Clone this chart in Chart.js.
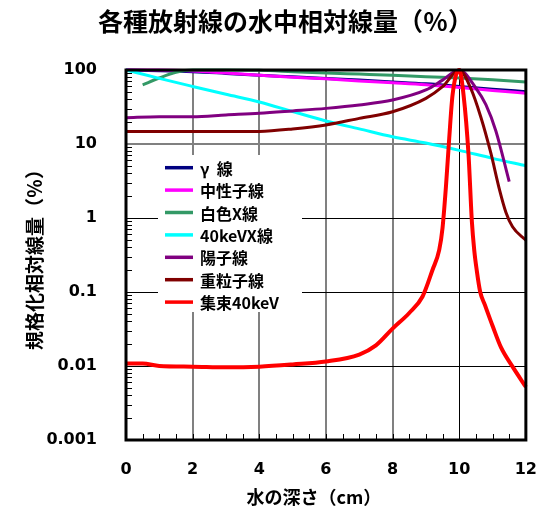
<!DOCTYPE html>
<html><head><meta charset="utf-8">
<script src="https://cdn.jsdelivr.net/npm/chart.js@4/dist/chart.umd.min.js"></script>
<style>html,body{margin:0;padding:0;background:#fff}</style>
</head><body>
<canvas id="c" width="557" height="510"></canvas>
<script>
// ---- data ----
const seriesNames = ['γ  線', '中性子線', '白色X線', '40keVX線', '陽子線', '重粒子線', '集束40keV'];
const seriesColors = ['#000080', '#FF00FF', '#339966', '#00FFFF', '#800080', '#800000', '#FF0000'];

const gammaDepth = [0, 1, 2, 3, 4, 5, 6, 7, 8, 9, 10, 11, 12];
const gammaDose  = [100, 98, 95, 90, 85, 81, 77, 73, 69, 65, 60, 55, 51];

const neutronDepth = [0, 1, 2, 3, 4, 5, 6, 7, 8, 9, 10, 11, 12];
const neutronDose  = [100, 100, 97, 91, 85, 80, 76, 71, 67, 63, 58, 53, 48.5];

const whiteXDepth = [0.5, 1, 1.5, 2, 3, 4, 5, 6, 7, 8, 9, 10, 11, 12];
const whiteXDose  = [63, 78, 93, 100, 100, 99, 95, 91, 88, 85, 81, 78, 74, 69];

const kev40XDepth = [0, 1, 2, 3, 4, 5, 6, 7, 8, 9, 10, 11, 12];
const kev40XDose  = [100, 77, 60, 47, 37, 27.5, 20.5, 16, 12.5, 10.3, 8.2, 6.4, 5.1];

const protonDepth = [0, 1, 2, 3, 4, 5, 6, 7, 8, 9, 9.5, 10, 10.5, 10.8, 11.1, 11.5];
const protonDose  = [22.7, 23.4, 23.4, 24.7, 26, 28, 30.3, 33.7, 39.3, 53.7, 73, 100, 57, 34, 15, 3.1];

const heavyDepth = [0, 1, 2, 3, 4, 5, 6, 7, 8, 9, 9.5, 10, 10.35, 10.65, 10.95, 11.2, 11.4, 11.6, 12];
const heavyDose  = [14.7, 14.7, 14.7, 14.7, 14.8, 16, 18.1, 22.2, 27.3, 41.4, 59.5, 100, 56, 23, 7.5, 2.5, 1.2, 0.76, 0.5];

const focusDepth = [0, 0.5, 1, 2, 3, 4, 5, 6, 7, 7.5, 8, 8.5, 8.9, 9.2, 9.4, 9.5, 9.6, 9.7, 9.8, 10, 10.13, 10.28, 10.38, 10.45, 10.53, 10.63, 10.77, 11, 11.25, 11.6, 12];
const focusDose  = [0.0108, 0.0108, 0.0100, 0.0098, 0.0096, 0.0098, 0.0105, 0.0115, 0.0143, 0.019, 0.032, 0.052, 0.087, 0.20, 0.37, 0.74, 2.6, 12, 46, 100, 46, 7.1, 0.89, 0.37, 0.19, 0.10, 0.067, 0.035, 0.018, 0.0098, 0.0052];

const xTickLabels = ['0', '2', '4', '6', '8', '10', '12'];
const yTickLabels = ['0.001', '0.01', '0.1', '1', '10', '100'];

const depthSets = [gammaDepth, neutronDepth, whiteXDepth, kev40XDepth, protonDepth, heavyDepth, focusDepth];
const doseSets  = [gammaDose, neutronDose, whiteXDose, kev40XDose, protonDose, heavyDose, focusDose];

// ---- chart ----
const JP = '"Noto Sans CJK JP", "Noto Sans", sans-serif';
const NUM = '"DejaVu Sans", sans-serif';

const datasets = seriesNames.map((name, i) => ({
  label: name,
  data: depthSets[i].map((d, j) => ({ x: d, y: doseSets[i][j] })),
  borderColor: seriesColors[i],
  backgroundColor: seriesColors[i],
  borderWidth: i === 6 ? 4 : 3,
  pointRadius: 0,
  fill: false,
  cubicInterpolationMode: 'monotone',
  clip: 6,
  order: 7 - i
}));

function isDecade(v) {
  const l = Math.log10(v);
  return Math.abs(l - Math.round(l)) < 1e-6;
}

const framePlugin = {
  id: 'frame',
  afterLayout(chart) {
    if (chart.titleBlock) { chart.titleBlock.left += 17; chart.titleBlock.right += 17; }
  },
  beforeDraw(chart) {
    const xs = chart.scales.x;
    if (!xs._patched) {
      const orig = xs.drawTitle.bind(xs);
      xs.drawTitle = function () { const c = this.ctx; c.save(); c.translate(-12, 0); orig(); c.restore(); };
      xs._patched = true;
    }
  },
  afterDatasetsDraw(chart) {
    const { ctx, chartArea: a } = chart;
    const xs = chart.scales.x, ys = chart.scales.y;
    ctx.save();
    ctx.strokeStyle = '#000';
    ctx.lineWidth = 1;
    ctx.beginPath();
    for (let e = -3; e <= 1; e++) {
      for (let k = 2; k <= 9; k++) {
        const y = Math.round(ys.getPixelForValue(k * Math.pow(10, e))) + 0.5;
        ctx.moveTo(a.left, y); ctx.lineTo(a.left + 6, y);
      }
    }
    for (let v = 0.5; v < 12; v += 0.5) {
      const x = Math.round(xs.getPixelForValue(v)) + 0.5;
      ctx.moveTo(x, a.bottom); ctx.lineTo(x, a.bottom - 6);
    }
    ctx.stroke();
    ctx.lineWidth = 3;
    ctx.strokeRect(a.left, a.top, a.right - a.left, a.bottom - a.top);
    ctx.restore();
  },
  afterDraw(chart) {
    const { ctx, chartArea: a } = chart;
    ctx.save();
    ctx.fillStyle = '#fff';
    ctx.fillRect(a.left + 32, a.top + 85, 144, 157);
    const y0 = a.top + 97.7, dy = 22.4;
    chart.data.datasets.forEach((ds, i) => {
      const y = y0 + i * dy;
      ctx.strokeStyle = ds.borderColor;
      ctx.lineWidth = 3.5;
      ctx.beginPath();
      ctx.moveTo(a.left + 39, y); ctx.lineTo(a.left + 67, y);
      ctx.stroke();
      ctx.fillStyle = '#000';
      ctx.font = 'bold 16px ' + JP;
      ctx.textBaseline = 'middle';
      ctx.textAlign = 'left';
      ctx.fillText(ds.label, a.left + 74, y + 1);
    });
    ctx.restore();
  }
};

new Chart(document.getElementById('c'), {
  type: 'line',
  data: { datasets },
  options: {
    responsive: false,
    animation: false,
    devicePixelRatio: 1,
    layout: { padding: { left: 0, right: 20, top: 0, bottom: 0 } },
    plugins: {
      legend: { display: false },
      tooltip: { enabled: false },
      title: {
        display: true,
        text: '各種放射線の水中相対線量（％）',
        color: '#000',
        font: { family: JP, size: 25, weight: 'bold', lineHeight: 1.2 },
        padding: { top: 6, bottom: 34 }
      }
    },
    scales: {
      x: {
        type: 'linear',
        min: 0, max: 12,
        border: { display: false },
        grid: {
          drawTicks: false,
          color: (c) => c.tick && c.tick.value === 10 ? '#000' : '#808080',
          lineWidth: (c) => c.tick && c.tick.value === 10 ? 1 : 2
        },
        ticks: {
          stepSize: 2,
          color: '#000',
          padding: 20,
          font: { family: NUM, size: 16, weight: 'bold' },
          callback: (v) => xTickLabels[Math.round(v / 2)]
        },
        title: {
          display: true,
          text: '水の深さ（cm）',
          color: '#000',
          font: { family: JP, size: 18, weight: 'bold', lineHeight: 1.2 },
          padding: { top: 0, bottom: 2 }
        },
        afterFit: (s) => { s.height = 70; }
      },
      y: {
        type: 'logarithmic',
        min: 0.001, max: 100,
        border: { display: false },
        grid: {
          drawTicks: false,
          color: (c) => {
            if (!c.tick || !isDecade(c.tick.value)) return 'rgba(0,0,0,0)';
            return Math.abs(c.tick.value - 10) < 1e-9 ? '#808080' : '#000';
          },
          lineWidth: (c) => (c.tick && Math.abs(c.tick.value - 10) < 1e-9) ? 2 : 1
        },
        ticks: {
          autoSkip: false,
          color: '#000',
          padding: 29,
          font: { family: NUM, size: 16, weight: 'bold' },
          callback: (v) => isDecade(v) ? yTickLabels[Math.round(Math.log10(v)) + 3] : ''
        },
        title: {
          display: true,
          text: '規格化相対線量（％）',
          color: '#000',
          font: { family: JP, size: 19, weight: 'bold', lineHeight: 1.2 },
          padding: { top: 23, bottom: 0 }
        },
        afterFit: (s) => { s.width = 126; }
      }
    }
  },
  plugins: [framePlugin]
});
</script>
</body></html>
